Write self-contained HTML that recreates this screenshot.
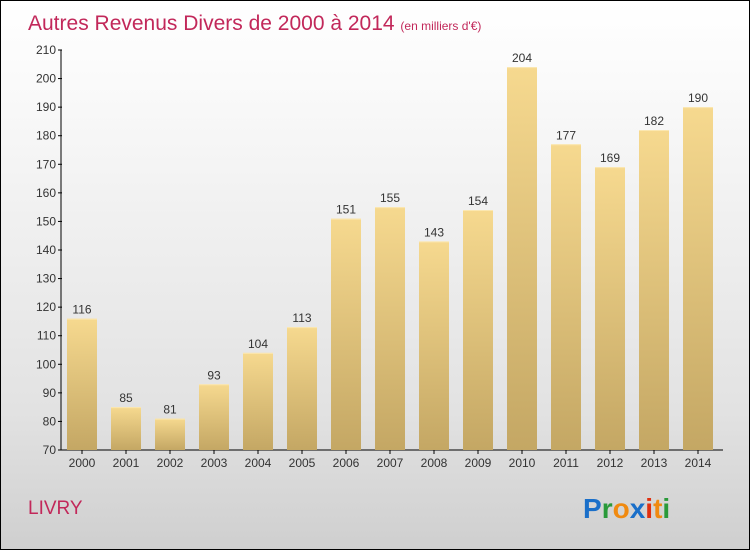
<!DOCTYPE html>
<html><head><meta charset="utf-8"><style>
body{margin:0}
#c{position:relative;width:748px;height:548px;border:1px solid #000;background:linear-gradient(#ffffff,#fafafa 15%,#e2e2e2 75%,#cfcfcf);overflow:hidden;font-family:"Liberation Sans",sans-serif}
</style></head><body>
<div id="c">
<svg width="748" height="548" id="svg">
<defs><linearGradient id="bg" x1="0" y1="0" x2="0" y2="1"><stop offset="0" stop-color="#f6d98f"/><stop offset="1" stop-color="#c4a764"/></linearGradient></defs>
<text x="27" y="29" font-size="21" fill="#c2285a">Autres Revenus Divers de 2000 à 2014 <tspan font-size="12">(en milliers d'€)</tspan></text>
<text x="27" y="513" font-size="19" fill="#c2285a">LIVRY</text>
<g font-size="28" font-weight="bold" font-family="Liberation Sans, sans-serif">
<text x="582" y="517"><tspan fill="#1a6fc9">P</tspan><tspan fill="#2a9a3a">r</tspan><tspan fill="#f08a10">o</tspan><tspan fill="#1a6fc9">x</tspan><tspan fill="#e03010">i</tspan><tspan fill="#f08a10">t</tspan><tspan fill="#2a9a3a">i</tspan></text></g>
<g id="g"></g>
</svg></div>
<script>
const years=["2000","2001","2002","2003","2004","2005","2006","2007","2008","2009","2010","2011","2012","2013","2014"];
const values=[116,85,81,93,104,113,151,155,143,154,204,177,169,182,190];
const ticks=[70,80,90,100,110,120,130,140,150,160,170,180,190,200,210];
const NS="http://www.w3.org/2000/svg";
const g=document.getElementById('g');
const y=v=>449-(v-70)*400/140;
const x=i=>81+i*44;
function mk(t,a){const e=document.createElementNS(NS,t);for(const k in a)e.setAttribute(k,a[k]);g.appendChild(e);return e;}
const ax=mk('line',{x1:60,y1:49,x2:60,y2:449,stroke:'#000'});


const bx=mk('line',{x1:60,y1:449,x2:722,y2:449,stroke:'#000'});


ticks.forEach(t=>{
 const l=mk('line',{x1:57,y1:y(t),x2:61,y2:y(t),stroke:'#000'});
 
 
 const tx=mk('text',{x:55,y:y(t)+4,'font-size':12,fill:'#333','text-anchor':'end'});tx.textContent=t;
 
 
});
values.forEach((v,i)=>{
 const r=mk('rect',{x:x(i)-15,y:y(v),width:30,height:449-y(v),fill:'url(#bg)'});
 
 
 const e=mk('line',{x1:x(i)-15,y1:y(v)+0.5,x2:x(i)+15,y2:y(v)+0.5,stroke:'#fbe7b0'});
 
 
 const lb=mk('text',{x:x(i),y:y(v)-5,'font-size':12,fill:'#333','text-anchor':'middle'});lb.textContent=v;
 
 
 const tl=mk('line',{x1:x(i),y1:449,x2:x(i),y2:453,stroke:'#000'});
 
 
 const xl=mk('text',{x:x(i),y:466,'font-size':12,fill:'#333','text-anchor':'middle'});xl.textContent=years[i];
 
 
});
</script>
</body></html>
